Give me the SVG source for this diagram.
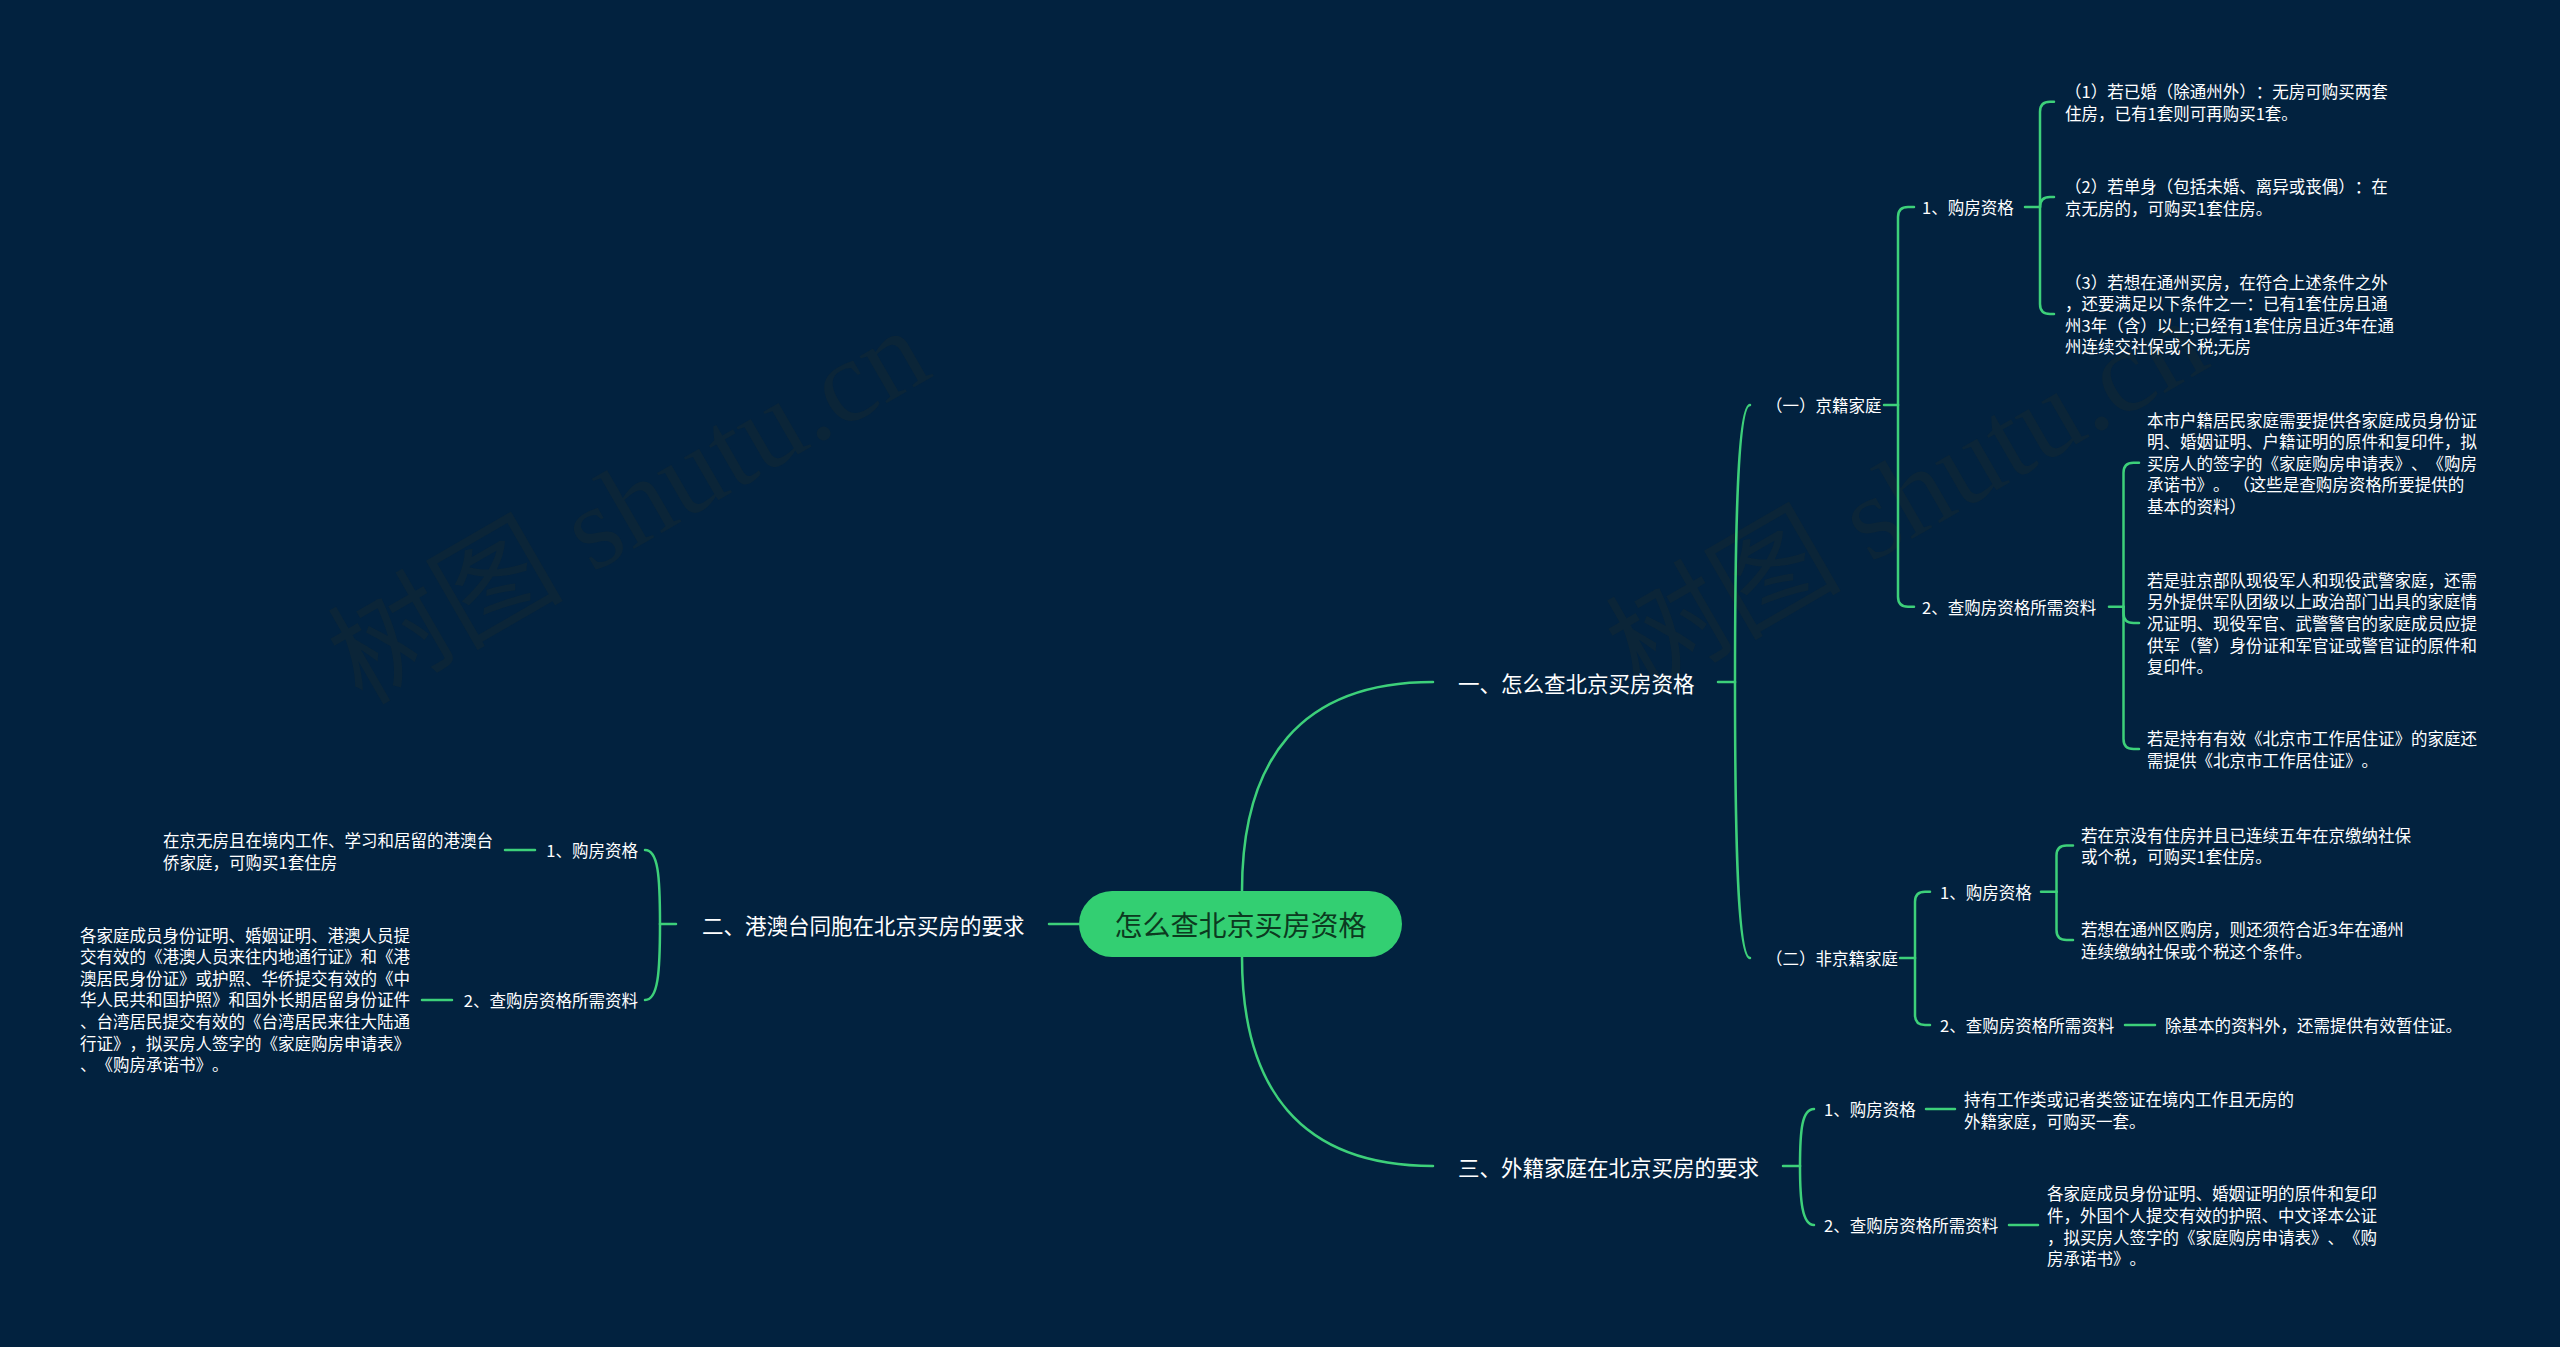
<svg xmlns="http://www.w3.org/2000/svg" width="2560" height="1347" viewBox="0 0 2560 1347">
<style>
.bg{fill:#02223f}
.wm{font-family:"Liberation Serif","Noto Sans CJK SC",serif;font-size:118px;fill:#0b2538}
.c{fill:none;stroke:#3dd07a;stroke-width:2.5;stroke-linecap:round}
.t{font-family:"Noto Sans CJK SC","Noto Sans",sans-serif;fill:#ffffff;dominant-baseline:central;text-spacing-trim:space-all;font-feature-settings:"halt" 0,"chws" 0}
.l1{font-size:21.5px}
.l2{font-size:16.5px}
.rootbox{fill:#33cf72}
.roottxt{font-family:"Noto Sans CJK SC","Noto Sans",sans-serif;font-size:28px;fill:#0c3a20;dominant-baseline:central;text-anchor:middle}
</style>
<rect class="bg" x="0" y="0" width="2560" height="1347"/>
<g id="watermarks">
<text class="wm" transform="translate(362,706) rotate(-30)">树图 shutu.cn</text>
<text class="wm" transform="translate(1640,696) rotate(-30)">树图 shutu.cn</text>
</g>
<g id="connectors">
<path class="c" d="M1242,891 C1242,760 1300,682 1433,682"/>
<path class="c" d="M1242,957 C1242,1088 1300,1166 1433,1166"/>
<path class="c" d="M1079,924 L1049,924"/>
<path class="c" d="M1718,682 L1735,682"/>
<path class="c" d="M1735,682 C1735,520 1738,405 1750,405"/>
<path class="c" d="M1735,682 C1735,845 1738,958 1750,958"/>
<path class="c" d="M1884,405 L1898,405"/>
<path class="c" d="M1898,405 L1898,217 Q1898,207 1908,207 L1914,207"/>
<path class="c" d="M1898,405 L1898,596.7 Q1898,606.7 1908,606.7 L1914,606.7"/>
<path class="c" d="M2025,207 L2040,207"/>
<path class="c" d="M2040,207 L2040,111.7 Q2040,101.7 2050,101.7 L2054,101.7"/>
<path class="c" d="M2040,207 Q2040,197 2050,197 L2054,197"/>
<path class="c" d="M2040,207 L2040,304 Q2040,314 2050,314 L2054,314"/>
<path class="c" d="M2109,606.7 L2123.5,606.7"/>
<path class="c" d="M2123.5,606.7 L2123.5,472.8 Q2123.5,462.8 2133.5,462.8 L2139,462.8"/>
<path class="c" d="M2123.5,606.7 L2123.5,613 Q2123.5,623 2133.5,623 L2139,623"/>
<path class="c" d="M2123.5,606.7 L2123.5,739 Q2123.5,749 2133.5,749 L2139,749"/>
<path class="c" d="M1900,958 L1915,958"/>
<path class="c" d="M1915,958 L1915,901.7 Q1915,891.7 1925,891.7 L1930,891.7"/>
<path class="c" d="M1915,958 L1915,1015 Q1915,1025 1925,1025 L1930,1025"/>
<path class="c" d="M2041,891.7 L2056.5,891.7"/>
<path class="c" d="M2056.5,891.7 L2056.5,855.5 Q2056.5,845.5 2066.5,845.5 L2073,845.5"/>
<path class="c" d="M2056.5,891.7 L2056.5,930 Q2056.5,940 2066.5,940 L2073,940"/>
<path class="c" d="M2125,1025 L2155,1025"/>
<path class="c" d="M1783,1166 L1800,1166"/>
<path class="c" d="M1800,1166 C1800,1130 1802,1109 1814,1109"/>
<path class="c" d="M1800,1166 C1800,1200 1802,1225 1814,1225"/>
<path class="c" d="M1926,1109 L1955,1109"/>
<path class="c" d="M2009,1225 L2038,1225"/>
<path class="c" d="M676,924 L660,924"/>
<path class="c" d="M660,924 C660,875 658,850 645,850"/>
<path class="c" d="M660,924 C660,973 658,1000 645,1000"/>
<path class="c" d="M535,850 L505,850"/>
<path class="c" d="M452,1000 L422,1000"/>
</g>
<g id="root">
<rect class="rootbox" x="1079" y="891" width="323" height="66" rx="33"/>
<text class="roottxt" x="1240.5" y="924">怎么查北京买房资格</text>
</g>
<g id="n1"><text class="t l1" x="1458" y="682">一、怎么查北京买房资格</text></g>
<g id="n2"><text class="t l1" x="702" y="924">二、港澳台同胞在北京买房的要求</text></g>
<g id="n3"><text class="t l1" x="1458" y="1166">三、外籍家庭在北京买房的要求</text></g>
<g id="n1a"><text class="t l2" x="1766" y="405">（一）京籍家庭</text></g>
<g id="n1a1"><text class="t l2" x="1922" y="207">1、购房资格</text></g>
<g id="n1a1a"><text class="t l2"><tspan x="2065" y="90.9">（1）若已婚（除通州外）：无房可购买两套</tspan><tspan x="2065" y="112.5">住房，已有1套则可再购买1套。</tspan></text></g>
<g id="n1a1b"><text class="t l2"><tspan x="2065" y="186.2">（2）若单身（包括未婚、离异或丧偶）：在</tspan><tspan x="2065" y="207.8">京无房的，可购买1套住房。</tspan></text></g>
<g id="n1a1c"><text class="t l2"><tspan x="2065" y="281.6">（3）若想在通州买房，在符合上述条件之外</tspan><tspan x="2065" y="303.2">，还要满足以下条件之一：已有1套住房且通</tspan><tspan x="2065" y="324.8">州3年（含）以上;已经有1套住房且近3年在通</tspan><tspan x="2065" y="346.4">州连续交社保或个税;无房</tspan></text></g>
<g id="n1a2"><text class="t l2" x="1922" y="606.7">2、查购房资格所需资料</text></g>
<g id="n1a2a"><text class="t l2"><tspan x="2147" y="419.6">本市户籍居民家庭需要提供各家庭成员身份证</tspan><tspan x="2147" y="441.2">明、婚姻证明、户籍证明的原件和复印件，拟</tspan><tspan x="2147" y="462.8">买房人的签字的《家庭购房申请表》、《购房</tspan><tspan x="2147" y="484.4">承诺书》。 （这些是查购房资格所要提供的</tspan><tspan x="2147" y="506">基本的资料）</tspan></text></g>
<g id="n1a2b"><text class="t l2"><tspan x="2147" y="579.8">若是驻京部队现役军人和现役武警家庭，还需</tspan><tspan x="2147" y="601.4">另外提供军队团级以上政治部门出具的家庭情</tspan><tspan x="2147" y="623">况证明、现役军官、武警警官的家庭成员应提</tspan><tspan x="2147" y="644.6">供军（警）身份证和军官证或警官证的原件和</tspan><tspan x="2147" y="666.2">复印件。</tspan></text></g>
<g id="n1a2c"><text class="t l2"><tspan x="2147" y="738.2">若是持有有效《北京市工作居住证》的家庭还</tspan><tspan x="2147" y="759.8">需提供《北京市工作居住证》。</tspan></text></g>
<g id="n1b"><text class="t l2" x="1766" y="958">（二）非京籍家庭</text></g>
<g id="n1b1"><text class="t l2" x="1940" y="891.7">1、购房资格</text></g>
<g id="n1b1a"><text class="t l2"><tspan x="2081" y="834.7">若在京没有住房并且已连续五年在京缴纳社保</tspan><tspan x="2081" y="856.3">或个税，可购买1套住房。</tspan></text></g>
<g id="n1b1b"><text class="t l2"><tspan x="2081" y="929.2">若想在通州区购房，则还须符合近3年在通州</tspan><tspan x="2081" y="950.8">连续缴纳社保或个税这个条件。</tspan></text></g>
<g id="n1b2"><text class="t l2" x="1940" y="1025">2、查购房资格所需资料</text></g>
<g id="n1b2a"><text class="t l2" x="2165" y="1025">除基本的资料外，还需提供有效暂住证。</text></g>
<g id="n2a"><text class="t l2" x="638" y="850" text-anchor="end">1、购房资格</text></g>
<g id="n2a1"><text class="t l2"><tspan x="163" y="840">在京无房且在境内工作、学习和居留的港澳台</tspan><tspan x="163" y="861.6">侨家庭，可购买1套住房</tspan></text></g>
<g id="n2b"><text class="t l2" x="638" y="1000" text-anchor="end">2、查购房资格所需资料</text></g>
<g id="n2b1"><text class="t l2"><tspan x="80" y="934.5">各家庭成员身份证明、婚姻证明、港澳人员提</tspan><tspan x="80" y="956.1">交有效的《港澳人员来往内地通行证》和《港</tspan><tspan x="80" y="977.7">澳居民身份证》或护照、华侨提交有效的《中</tspan><tspan x="80" y="999.3">华人民共和国护照》和国外长期居留身份证件</tspan><tspan x="80" y="1020.9">、台湾居民提交有效的《台湾居民来往大陆通</tspan><tspan x="80" y="1042.5">行证》，拟买房人签字的《家庭购房申请表》</tspan><tspan x="80" y="1064.1">、《购房承诺书》。</tspan></text></g>
<g id="n3a"><text class="t l2" x="1824" y="1109">1、购房资格</text></g>
<g id="n3a1"><text class="t l2"><tspan x="1964" y="1098.9">持有工作类或记者类签证在境内工作且无房的</tspan><tspan x="1964" y="1120.5">外籍家庭，可购买一套。</tspan></text></g>
<g id="n3b"><text class="t l2" x="1824" y="1225">2、查购房资格所需资料</text></g>
<g id="n3b1"><text class="t l2"><tspan x="2047" y="1193.4">各家庭成员身份证明、婚姻证明的原件和复印</tspan><tspan x="2047" y="1215">件，外国个人提交有效的护照、中文译本公证</tspan><tspan x="2047" y="1236.6">，拟买房人签字的《家庭购房申请表》、《购</tspan><tspan x="2047" y="1258.2">房承诺书》。</tspan></text></g>
</svg>
